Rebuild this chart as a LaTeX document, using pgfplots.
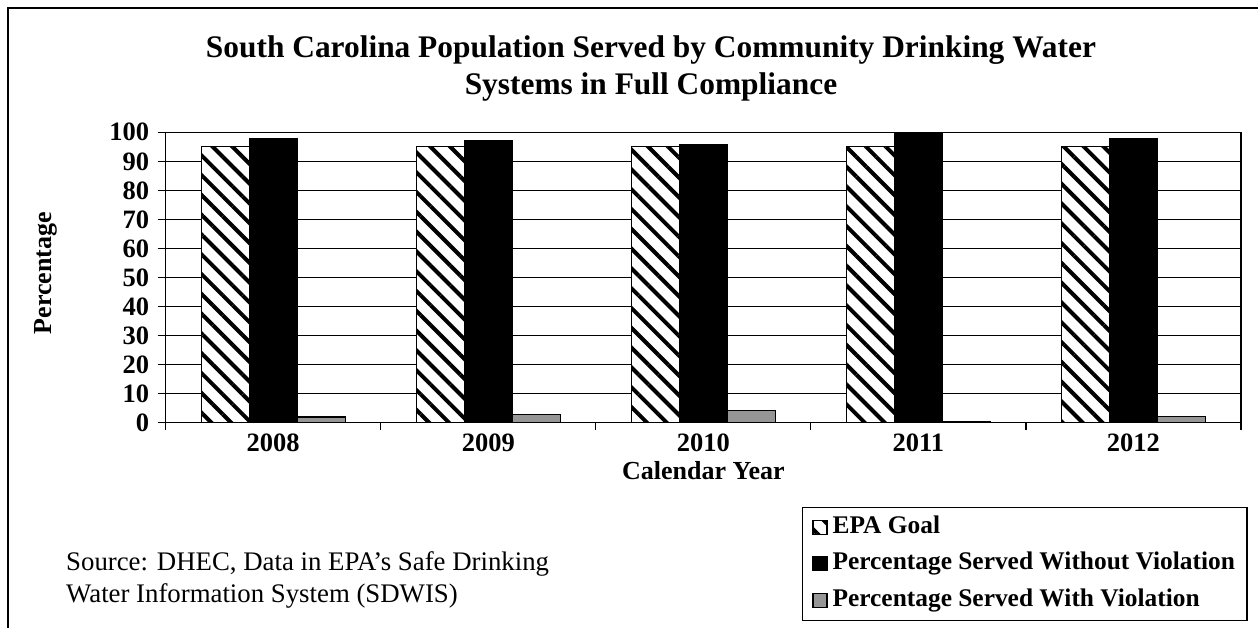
\documentclass[border=0pt]{standalone}
\usepackage{pgfplots}
\pgfplotsset{compat=1.18}
\usepackage{fontspec}
\setmainfont{Liberation Serif}
\usetikzlibrary{patterns.meta}
\definecolor{barGray}{RGB}{150,150,150}

\pgfplotstableread{
x goal without with
1 95 98.0 2.0
2 95 97.3 2.7
3 95 95.9 4.1
4 95 99.6 0.4
5 95 97.9 2.1
}\datatable

\begin{document}
\begin{tikzpicture}
\path[use as bounding box] (0pt,0pt) rectangle (1258pt,-627pt);
\draw[line width=1.6pt] (8pt,-640pt) -- (8pt,-8pt) -- (1270pt,-8pt);

\node[font=\bfseries\fontsize{31.4}{37}\selectfont, align=center] at (651pt,-68pt)
  {South Carolina Population Served by Community Drinking Water\\Systems in Full Compliance};

\begin{axis}[
  at={(165.7pt,-422.7pt)}, anchor=south west,
  scale only axis, width=1075.3pt, height=290.4pt,
  xmin=0.5, xmax=5.5, ymin=0, ymax=100,
  ybar=0pt, bar width=48pt,
  /pgf/number format/assume math mode=true,
  xtick={1,2,3,4,5},
  xticklabels={2008,2009,2010,2011,2012},
  minor xtick={0.5,1.5,2.5,3.5,4.5,5.5},
  ytick={0,10,...,100},
  tick pos=left, tick align=outside,
  major tick length=8pt, minor tick length=7pt,
  major x tick style={draw=none},
  tick style={black, line width=1.2pt},
  ymajorgrids, grid style={black, line width=1pt},
  axis line style={black, line width=1.3pt},
  ticklabel style={font=\bfseries\fontsize{26.5}{26.5}\selectfont},
  yticklabel style={xshift=-5pt},
  xlabel={Calendar Year}, ylabel={Percentage},
  label style={font=\bfseries\fontsize{26}{26}\selectfont},
  xlabel style={at={(axis description cs:0.5,-0.1663)}, anchor=center},
  ylabel style={at={(axis description cs:-0.1115,0.5155)}, anchor=center, rotate=0},
  legend cell align=left,
  legend image code/.code={\draw[#1, line width=1.2pt] (0pt,-7pt) rectangle (14pt,7pt);},
  legend style={at={(axis description cs:0.5915,-0.2893)}, anchor=north west,
    draw=black, line width=1.3pt, inner xsep=10pt, inner ysep=6pt,
    font=\bfseries\fontsize{25.4}{30}\selectfont, row sep=8.5pt, column sep=3pt,
    nodes={inner sep=2pt, text height=18pt, text depth=6pt}},
]
\addplot[draw=black, line width=1.2pt, fill=white,
  postaction={pattern={Lines[angle=-45,distance=14pt,line width=4pt]}, pattern color=black}]
  table[x=x, y=goal] {\datatable};
\addplot[draw=black, line width=1.2pt, fill=black] table[x=x, y=without] {\datatable};
\addplot[draw=black, line width=1.2pt, fill=barGray] table[x=x, y=with] {\datatable};
\legend{EPA Goal, Percentage Served Without Violation, Percentage Served With Violation}
\end{axis}

\node[anchor=base west, font=\fontsize{26.8}{26.8}\selectfont, inner sep=0pt] at (66pt,-570.5pt)
  {Source: DHEC, Data in EPA’s Safe Drinking};
\node[anchor=base west, font=\fontsize{26.8}{26.8}\selectfont, inner sep=0pt] at (66pt,-602.5pt)
  {Water Information System (SDWIS)};
\end{tikzpicture}
\end{document}
